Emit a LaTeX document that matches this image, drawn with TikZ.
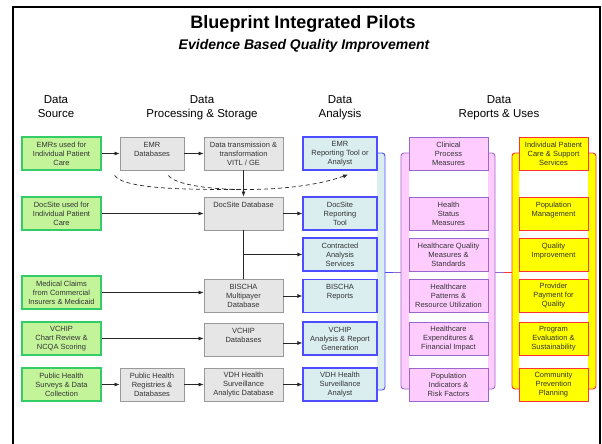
\documentclass[tikz,border=0pt]{standalone}
\usepackage{fontspec}
\setmainfont{Liberation Sans}
\usepackage{tikz}
\usetikzlibrary{positioning,calc,backgrounds,arrows.meta}

\definecolor{srcfill}{HTML}{C4F49A}
\definecolor{srcedge}{HTML}{33CC66}
\definecolor{procfill}{HTML}{E6E6E6}
\definecolor{procedge}{HTML}{999999}
\definecolor{anafill}{HTML}{DAEEF0}
\definecolor{anaedge}{HTML}{4D4DFF}
\definecolor{repfill}{HTML}{FFCCFF}
\definecolor{repedge}{HTML}{9966CC}
\definecolor{usefill}{HTML}{FFFF00}
\definecolor{useedge}{HTML}{FF3333}
\definecolor{boxtext}{HTML}{333333}

\tikzset{
  cbox/.style args={#1,#2}{
  rectangle,
  inner sep=0pt,
  align=center,
  text=boxtext,
  font=\fontsize{7.5}{9}\selectfont,
  minimum width=#1pt,
  minimum height=#2pt,
  },
  srcbox/.style={cbox={79,33},draw=srcedge,fill=srcfill,line width=1.2pt},
  smallproc/.style={cbox={64,33},draw=procedge,fill=procfill,line width=0.9pt},
  procbox/.style={cbox={79,33},draw=procedge,fill=procfill,line width=0.9pt},
  anabox/.style={cbox={74,33},draw=anaedge,fill=anafill,line width=1.2pt},
  repbox/.style={cbox={79,33},draw=repedge,fill=repfill,line width=0.9pt},
  usebox/.style={cbox={69,33},draw=useedge,fill=usefill,line width=0.9pt},
  head/.style={anchor=north,inner sep=0pt,align=center,font=\fontsize{11.5}{13.5}\selectfont},
  rail/.style={rounded corners=3pt,line width=0.9pt},
  link/.style={line width=0.7pt,draw=black!85},
  later/.style={link,dash pattern=on 4pt off 3pt}
}

\begin{document}
\begin{tikzpicture}[x=1pt,y=-1pt,>={Latex[length=5pt,width=4pt]}]
  \useasboundingbox (0,0) rectangle (602,444);

  % frame and titles
  \draw[line width=2pt] (13,446) -- (13,7) -- (599.5,7) -- (599.5,446);
  \node[anchor=base,font=\fontsize{18}{20}\selectfont\bfseries] (title) at (303,29) {Blueprint Integrated Pilots};
  \node[anchor=base,font=\fontsize{14}{16}\selectfont\bfseries\itshape] (subtitle) at (304,49.5) {Evidence Based Quality Improvement};

  \node[head] (hsrc) at (56,95.5) {Data\\Source};
  \node[head] (hproc) at (202,95.5) {Data\\Processing \& Storage};
  \node[head] (hana) at (340,95.5) {Data\\Analysis};
  \node[head] (huse) at (499,95.5) {Data\\Reports \& Uses};

  % data sources
  \node[srcbox] (emr) at (61.5,153.5) {EMRs used for\\Individual Patient\\Care};
  \node[srcbox] (docsite) at (61.5,213.5) {DocSite used for\\Individual Patient\\Care};
  \node[srcbox] (claims) at (61.5,292.5) {Medical Claims\\from Commercial\\Insurers \& Medicaid};
  \node[srcbox] (vchip) at (61.5,338.5) {VCHIP\\Chart Review \&\\NCQA Scoring};
  \node[srcbox] (survey) at (61.5,384.5) {Public Health\\Surveys \& Data\\Collection};

  % processing & storage
  \node[smallproc] (emrdb) at (152,153.5) {EMR\\Databases\\~};
  \node[smallproc] (registry) at (152,384.5) {Public Health\\Registries \&\\Databases};
  \node[procbox] (trans) at (243.5,153.5) {Data transmission \&\\transformation\\VITL / GE};
  \node[procbox] (docdb) at (243.5,213.5) {DocSite Database\\~\\~};
  \node[procbox] (bischadb) at (243.5,296) {BISCHA\\Multipayer\\Database};
  \node[procbox] (vchipdb) at (243.5,340) {VCHIP\\Databases\\~};
  \node[procbox] (vdhdb) at (243.5,384.5) {VDH Health\\Surveillance\\Analytic Database};

  % analysis
  \node[anabox] (emrtool) at (340,153.5) {EMR\\Reporting Tool or\\Analyst};
  \node[anabox] (doctool) at (340,213.5) {DocSite\\Reporting\\Tool};
  \node[anabox] (contract) at (340,254.5) {Contracted\\Analysis\\Services};
  \node[anabox] (bischarep) at (340,296) {BISCHA\\Reports\\~};
  \node[anabox] (vchiprep) at (340,338.5) {VCHIP\\Analysis \& Report\\Generation};
  \node[anabox] (vdhrep) at (340,384.5) {VDH Health\\Surveillance\\Analyst};

  % reports
  \node[repbox] (clinical) at (448.5,153.5) {Clinical\\Process\\Measures};
  \node[repbox] (status) at (448.5,213.5) {Health\\Status\\Measures};
  \node[repbox] (quality) at (448.5,254.5) {Healthcare Quality\\Measures \&\\Standards};
  \node[repbox] (patterns) at (448.5,296) {Healthcare\\Patterns \&\\Resource Utilization};
  \node[repbox] (expend) at (448.5,338.5) {Healthcare\\Expenditures \&\\Financial Impact};
  \node[repbox] (popind) at (448.5,384.5) {Population\\Indicators \&\\Risk Factors};

  % uses
  \node[usebox] (patcare) at (553.5,153.5) {Individual Patient\\Care \& Support\\Services};
  \node[usebox] (popmgmt) at (553.5,213.5) {Population\\Management\\~};
  \node[usebox] (qualimp) at (553.5,254.5) {Quality\\Improvement\\~};
  \node[usebox] (payment) at (553.5,296) {Provider\\Payment for\\Quality};
  \node[usebox] (progeval) at (553.5,338.5) {Program\\Evaluation \&\\Sustainability};
  \node[usebox] (commun) at (553.5,384.5) {Community\\Prevention\\Planning};

  % rails behind the columns
  \begin{scope}[on background layer]
    \filldraw[rail,draw=anaedge,fill=anafill] (377,153) -- (385,153) -- (385,390) -- (377,390);
    \filldraw[rail,draw=repedge,fill=repfill] (409,153) -- (401,153) -- (401,389) -- (409,389);
    \filldraw[rail,draw=repedge,fill=repfill] (488,153) -- (495,153) -- (495,389) -- (488,389);
    \filldraw[rail,draw=useedge,fill=usefill] (519,153) -- (512,153) -- (512,389) -- (519,389);
    \filldraw[rail,draw=useedge,fill=usefill] (588,153) -- (596,153) -- (596,389) -- (588,389);
  \end{scope}
  \coordinate (ana1) at (385,272);
  \coordinate (ana2) at (393,272);
  \coordinate (rep1) at (401,272);
  \coordinate (rep2) at (495,272);
  \coordinate (rep3) at (503.5,272);
  \coordinate (use1) at (512,272);
  \draw[line width=1pt,anaedge] (ana1) -- (ana2);
  \draw[line width=1pt,repedge] (ana2) -- (rep1);
  \draw[line width=1pt,repedge] (rep2) -- (rep3);
  \draw[line width=1pt,useedge] (rep3) -- (use1);

  % flows
  \draw[link,->] (emr) -- (emrdb);
  \draw[link,->] (emrdb) -- (trans);
  \draw[link,->] (trans) -- (docdb);
  \draw[link,->] (docsite) -- (docdb);
  \draw[link,->] (docdb) -- (doctool);
  \draw[link] (docdb) -- (bischadb);
  \draw[link,->] (docdb.south |- contract) -- (contract);
  \draw[link,->] (claims.east) -- (claims.east -| bischadb.west);
  \draw[link,->] (bischadb) -- (bischarep);
  \draw[link,->] (vchip.east) -- (vchip.east -| vchipdb.west);
  \draw[link,->] ($(vchipdb.east)+(0,3)$) -- ($(vchipdb.east -| vchiprep.west)+(0,3)$);
  \draw[link,->] (survey) -- (registry);
  \draw[link,->] (registry) -- (vdhdb);
  \draw[link,->] (vdhdb) -- (vdhrep);

  % planned EMR feeds
  \coordinate (d1) at ($(emrdb.south west)+(-5,5)$);
  \coordinate (d2) at ($(emrdb.south east)+(-16,5)$);
  \coordinate (merge) at ($(trans.south)+(-2.5,19)$);
  \draw[later] (d1) .. controls +(10,15) and +(-40,0) .. (merge);
  \draw[later,->] (d2) .. controls +(12,17) and +(-58,21) .. ($(emrtool.south)+(8,4)$);

\end{tikzpicture}
\end{document}
